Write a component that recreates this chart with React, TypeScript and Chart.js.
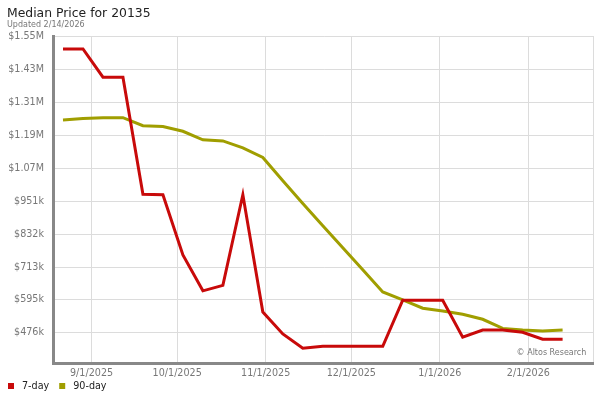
import React, { useEffect, useRef } from 'react';
import { Chart, registerables } from 'chart.js';

Chart.register(...registerables);

// ---- Data ----
const dates = [
  '2025-08-22', '2025-08-29', '2025-09-05', '2025-09-12', '2025-09-19', '2025-09-26',
  '2025-10-03', '2025-10-10', '2025-10-17', '2025-10-24', '2025-10-31', '2025-11-07',
  '2025-11-14', '2025-11-21', '2025-11-28', '2025-12-05', '2025-12-12', '2025-12-19',
  '2025-12-26', '2026-01-02', '2026-01-09', '2026-01-16', '2026-01-23', '2026-01-30',
  '2026-02-06', '2026-02-13',
];

const sevenDay = [
  1503000, 1503000, 1401000, 1401000, 977000, 975000,
  757000, 627000, 647000, 975000, 550000, 471000,
  419000, 426000, 426000, 426000, 426000, 593000,
  593000, 593000, 459000, 485000, 485000, 477000,
  452000, 452000,
];

const ninetyDay = [
  1246000, 1251000, 1254000, 1254000, 1225000, 1222000,
  1205000, 1174000, 1170000, 1145000, 1110000, 1026000,
  943000, 863000, 783000, 703000, 623000, 594000,
  564000, 554000, 542000, 524000, 491000, 485000,
  482000, 485000,
];

const seriesLabels = ['7-day', '90-day'];

const xTickDates = ['2025-09-01', '2025-10-01', '2025-11-01', '2025-12-01', '2026-01-01', '2026-02-01'];
const xTickLabels = ['9/1/2025', '10/1/2025', '11/1/2025', '12/1/2025', '1/1/2026', '2/1/2026'];

const yTickValues = [476000, 595000, 713000, 832000, 951000, 1070000, 1190000, 1310000, 1430000, 1550000];
const yTickLabels = ['$476k', '$595k', '$713k', '$832k', '$951k', '$1.07M', '$1.19M', '$1.31M', '$1.43M', '$1.55M'];

const titleText = 'Median Price for 20135';
const subtitleText = 'Updated 2/14/2026';
const creditText = '\u00A9 Altos Research';

// ---- helpers ----
const ORIGIN = Date.UTC(2025, 8, 1);
function dayNum(s: string): number {
  const [y, m, d] = s.split('-').map(Number);
  return (Date.UTC(y, m - 1, d) - ORIGIN) / 86400000;
}

const X_MIN = -13.5;
const X_MAX = 175.75;
const Y_MIN = 364600;
const Y_MAX = 1550000;

const RED = '#c80a0a';
const OLIVE = '#a09e00';
const FONT = '"DejaVu Sans", Verdana, sans-serif';

const extrasPlugin = {
  id: 'extras',
  afterDraw(chart: any) {
    const { ctx, chartArea } = chart;
    ctx.save();
    // credit
    ctx.font = `8px ${FONT}`;
    ctx.fillStyle = '#777';
    ctx.textAlign = 'right';
    ctx.textBaseline = 'middle';
    ctx.fillText(creditText, chartArea.right - 7, chartArea.bottom - 10);
    // legend
    let x = 8;
    const y = 386;
    ctx.font = `9.6px ${FONT}`;
    ctx.textAlign = 'left';
    chart.data.datasets.forEach((ds: any) => {
      ctx.fillStyle = ds.borderColor;
      ctx.fillRect(x, y - 3, 6, 6);
      ctx.fillStyle = '#222';
      ctx.fillText(ds.label, x + 14, y);
      x += 14 + ctx.measureText(ds.label).width + 10;
    });
    ctx.restore();
  },
};

export default function App() {
  const ref = useRef<HTMLCanvasElement | null>(null);

  useEffect(() => {
    document.body.style.margin = '0';
    if (!ref.current) return;
    const xs = dates.map(dayNum);
    const chart = new Chart(ref.current, {
      type: 'line',
      data: {
        datasets: [
          {
            label: seriesLabels[0],
            data: xs.map((x, i) => ({ x, y: sevenDay[i] })),
            borderColor: RED,
            backgroundColor: RED,
            borderWidth: 3,
            pointRadius: 0,
            tension: 0,
            fill: false,
          },
          {
            label: seriesLabels[1],
            data: xs.map((x, i) => ({ x, y: ninetyDay[i] })),
            borderColor: OLIVE,
            backgroundColor: OLIVE,
            borderWidth: 3,
            pointRadius: 0,
            tension: 0,
            fill: false,
          },
        ],
      },
      options: {
        responsive: false,
        animation: false,
        devicePixelRatio: 1,
        layout: { padding: { left: 7, right: 6.7, top: 0, bottom: 20.7 } },
        font: { family: FONT },
        scales: {
          x: {
            type: 'linear',
            min: X_MIN,
            max: X_MAX,
            afterBuildTicks: (scale: any) => {
              const t = xTickDates.map((d) => ({ value: dayNum(d) }));
              t.push({ value: X_MAX });
              scale.ticks = t;
            },
            afterFit: (scale: any) => {
              scale.height = 16;
            },
            ticks: {
              autoSkip: false,
              maxRotation: 0,
              padding: 4.5,
              color: '#777',
              font: { family: FONT, size: 9.6 },
              callback: (_v: any, i: number) => xTickLabels[i] ?? '',
            },
            grid: { color: '#dcdcdc', lineWidth: 1, drawTicks: false },
            border: { display: true, color: '#888', width: 3 },
          },
          y: {
            type: 'linear',
            min: Y_MIN,
            max: Y_MAX,
            afterBuildTicks: (scale: any) => {
              scale.ticks = yTickValues.map((v) => ({ value: v }));
            },
            afterFit: (scale: any) => {
              scale.width = 46;
            },
            ticks: {
              autoSkip: false,
              padding: 9,
              color: '#777',
              font: { family: FONT, size: 9.6 },
              callback: (_v: any, i: number) => yTickLabels[i] ?? '',
            },
            grid: { color: '#dcdcdc', lineWidth: 1, drawTicks: false },
            border: { display: true, color: '#888', width: 3 },
          },
        },
        plugins: {
          legend: { display: false },
          tooltip: { enabled: false },
          title: {
            display: true,
            text: titleText,
            align: 'start',
            color: '#222',
            font: { family: FONT, size: 12.4, weight: 'normal', lineHeight: 1 },
            padding: { top: 7.3, bottom: 0 },
          },
          subtitle: {
            display: true,
            text: subtitleText,
            align: 'start',
            color: '#777',
            font: { family: FONT, size: 8, weight: 'normal', lineHeight: 1 },
            padding: { top: 0.8, bottom: 7.5 },
          },
        },
      } as any,
      plugins: [extrasPlugin],
    });
    return () => chart.destroy();
  }, []);

  return (
    <div style={{ width: 600, height: 400 }}>
      <canvas ref={ref} width={600} height={400} style={{ width: 600, height: 400, display: 'block' }} />
    </div>
  );
}
